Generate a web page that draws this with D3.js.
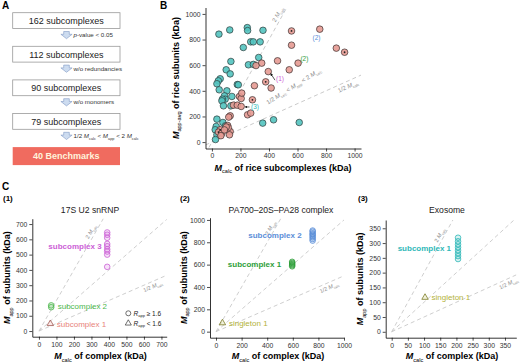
<!DOCTYPE html>
<html>
<head>
<meta charset="utf-8">
<script src="https://cdn.jsdelivr.net/npm/d3@7"></script>
<style>
body { margin: 0; background: #fff; }
svg { font-family: "Liberation Sans", Arial, sans-serif; }
</style>
</head>
<body>
<div id="vis"></div>
<script>
// ---- data ----
var flowCounts = [162, 112, 90, 79];
var flowSteps = ['*p*-value < 0.05', 'w/o redundancies', 'w/o monomers', '1/2 M_calc < M_app < 2 M_calc'];
var benchmarkCount = 40;

// panel B: rice subcomplexes (kDa)
var otherX = [49, 125, 248, 250, 358, 220, 272, 290, 338, 133, 328, 256, 291, 100, 128, 58, 45, 35, 51, 105,
              88, 93, 74, 70, 140, 178, 185, 81, 133, 35, 77, 95, 30, 23, 35, 25, 356, 432, 612];
var otherY = [842, 875, 893, 870, 872, 738, 782, 782, 782, 629, 660, 603, 606, 564, 532, 494, 478, 455, 408, 400,
              361, 335, 335, 322, 356, 449, 447, 283, 283, 179, 153, 127, 122, 96, 57, 20, 148, 174, 153];
var benchX = [558, 756, 558, 872, 930, 604, 542, 460, 349, 395, 377, 415, 298, 193, 205, 209, 284, 151, 178, 205,
              250, 272, 128, 118, 58, 46, 70, 63, 128, 123, 110, 115, 100, 88, 309];
var benchY = [867, 881, 756, 733, 701, 616, 564, 634, 616, 550, 470, 422, 440, 356, 340, 382, 330, 288, 288, 278,
              213, 226, 205, 195, 96, 78, 70, 50, 83, 57, 130, 112, 118, 95, 597];
var benchDotted = [0, 4, 10, 16, 24, 25];
var bTicks = [0, 200, 400, 600, 800, 1000];
var bNotes = ['(1)', '(2)', '(2)', '(3)'];
var bNoteX = [477, 648, 733, 302];
var bNoteY = [491, 650, 814, 274];

// panel C
var c1Title = '17S U2 snRNP';
var c1Names = ['subcomplex 1', 'subcomplex 2', 'subcomplex 3'];
var c1X = [65, 70, 390];
var c1Y = [[48], [168, 156], [645, 630, 610, 570, 555, 535, 520, 500, 420]];
var c1Shape = ['triangle', 'circle', 'circle'];
var c1Ticks = [0, 100, 200, 300, 400, 500, 600, 700];

var c2Title = 'PA700\u201320S\u2013PA28 complex';
var c2Names = ['singleton 1', 'subcomplex 1', 'subcomplex 2'];
var c2X = [50, 595, 755];
var c2Y = [[78], [625, 615, 605, 595, 585], [905, 895, 880, 870, 858, 845, 830, 815]];
var c2Shape = ['triangle', 'circle', 'circle'];
var c2Ticks = [0, 200, 400, 600, 800, 1000];

var c3Title = 'Exosome';
var c3Names = ['singleton 1', 'subcomplex 1'];
var c3X = [103, 205];
var c3Y = [[116], [318, 306, 296, 286, 276, 266, 256, 246]];
var c3Shape = ['triangle', 'circle'];
var c3Ticks = [0, 50, 100, 150, 200, 250, 300, 350];

var legendLabels = ['R_app \u2265 1.6', 'R_app < 1.6'];

// ---- helpers ----
var svg = d3.select('#vis').append('svg')
  .attr('width', 520)
  .attr('height', 364)
  .style('background', '#fff');

var fmt = d3.format('d');

// "M_calc" -> italic M + subscript, "*p*" -> italic
function richText(sel, str, size) {
  var shift = size * 0.3, cur = 0;
  str.split(/([A-Z]_[a-z\-]+|\*[^*]+\*)/).forEach(function(p) {
    if (!p) return;
    var main = p, sub = null, italic = false;
    if (/^[A-Z]_/.test(p)) { main = p[0]; sub = p.slice(2); italic = true; }
    else if (p[0] === '*') { main = p.slice(1, -1); italic = true; }
    var t = sel.append('tspan').text(main);
    if (cur !== 0) { t.attr('dy', -cur); cur = 0; }
    if (italic) t.style('font-style', 'italic');
    if (sub !== null) {
      sel.append('tspan').text(sub)
        .attr('dy', shift)
        .style('font-size', (size * 0.62) + 'px')
        .style('font-style', 'normal')
        .style('font-weight', 'normal');
      cur = shift;
    }
  });
}

function lineLabel(g, xs, ys, k, xv, str, above, size) {
  var ang = Math.atan2(ys(k * 100) - ys(0), xs(100) - xs(0)) * 180 / Math.PI;
  var t = g.append('text')
    .attr('transform', 'translate(' + xs(xv) + ',' + ys(k * xv) + ') rotate(' + ang + ')')
    .attr('text-anchor', 'middle')
    .attr('dy', above ? -2.5 : size + 1)
    .style('font-size', size + 'px')
    .attr('fill', '#8a8a8a');
  richText(t, str, size);
}

function styleAxis(a) {
  a.select('.domain').attr('stroke', '#000').attr('stroke-width', 0.8);
  a.selectAll('.tick line').attr('stroke', '#000').attr('stroke-width', 0.7);
  a.selectAll('.tick text').attr('fill', '#333').style('font-size', '6.8px').attr('font-family', null);
}

function panelLetter(x, y, s, size) {
  svg.append('text').attr('x', x).attr('y', y)
    .style('font-size', size + 'px').style('font-weight', 'bold').text(s);
}

// ---- panel A ----
panelLetter(2, 9, 'A', 10);
var gA = svg.append('g');
var boxLeft = 12.7, boxW = 107.3, boxH = 15.8, stepH = 33.6, boxTop0 = 12.7;

gA.selectAll('rect.flow').data(flowCounts).enter().append('rect')
  .attr('class', 'flow')
  .attr('x', boxLeft)
  .attr('y', function(d, i) { return boxTop0 + i * stepH; })
  .attr('width', boxW).attr('height', boxH)
  .attr('fill', '#fff').attr('stroke', '#9a9a9a').attr('stroke-width', 0.8);

gA.selectAll('text.flow').data(flowCounts).enter().append('text')
  .attr('class', 'flow')
  .attr('x', boxLeft + boxW / 2)
  .attr('y', function(d, i) { return boxTop0 + i * stepH + 11.3; })
  .attr('text-anchor', 'middle')
  .style('font-size', '9px').attr('fill', '#222')
  .text(function(d) { return d + ' subcomplexes'; });

flowSteps.forEach(function(s, i) {
  var cy = boxTop0 + i * stepH + 22.3, cx = 66.5;
  gA.append('path')
    .attr('d', 'M' + (cx - 2.8) + ',' + (cy - 3.5) + 'h5.6v2.8h2.8l-5.6,4.4l-5.6,-4.4h2.8z')
    .attr('fill', '#cddcf0').attr('stroke', '#7f99c4').attr('stroke-width', 0.6);
  var t = gA.append('text').attr('x', 73.5).attr('y', cy + 2.1)
    .style('font-size', '6.2px').attr('fill', '#333');
  richText(t, s, 6.2);
});

var redTop = boxTop0 + 4 * stepH;
gA.append('rect').attr('x', boxLeft).attr('y', redTop)
  .attr('width', boxW).attr('height', 18)
  .attr('fill', '#f06b5f');
gA.append('text').attr('x', boxLeft + boxW / 2).attr('y', redTop + 12.3)
  .attr('text-anchor', 'middle')
  .style('font-size', '9px').style('font-weight', 'bold').attr('fill', '#fff3dc')
  .text(benchmarkCount + ' Benchmarks');

// ---- panel B ----
panelLetter(160, 9, 'B', 10);
var gB = svg.append('g');
var bx = d3.scaleLinear().domain([-45, 1045]).range([205.5, 361]);
var by = d3.scaleLinear().domain([-50, 1050]).range([148.5, 7.5]);

svg.append('clipPath').attr('id', 'clipB').append('rect')
  .attr('x', 205.5).attr('y', 7.5).attr('width', 155.5).attr('height', 141);

var gBp = gB.append('g').attr('clip-path', 'url(#clipB)');
[2, 0.5].forEach(function(k) {
  gBp.append('line')
    .attr('x1', bx(-45)).attr('y1', by(-45 * k))
    .attr('x2', bx(1045)).attr('y2', by(1045 * k))
    .attr('stroke', '#c4c4c4').attr('stroke-width', 0.9).attr('stroke-dasharray', '4,3');
});
lineLabel(gB, bx, by, 2, 490, '2 M_calc', true, 6);
lineLabel(gB, bx, by, 0.5, 940, '1/2 M_calc', false, 6);
var midT = gB.append('text')
  .attr('transform', 'translate(' + bx(581) + ',' + by(423) + ') rotate(-32)')
  .attr('text-anchor', 'middle').style('font-size', '6px').attr('fill', '#8a8a8a');
richText(midT, '1/2 M_calc < M_app < 2 M_calc', 6);

gBp.selectAll('circle.other').data(otherX).enter().append('circle')
  .attr('class', 'other')
  .attr('cx', function(d) { return bx(d); })
  .attr('cy', function(d, i) { return by(otherY[i]); })
  .attr('r', 3.3)
  .attr('fill', '#52c3bf').attr('fill-opacity', 0.9)
  .attr('stroke', '#2e3b3b').attr('stroke-width', 0.7);

gBp.selectAll('circle.bench').data(benchX).enter().append('circle')
  .attr('class', 'bench')
  .attr('cx', function(d) { return bx(d); })
  .attr('cy', function(d, i) { return by(benchY[i]); })
  .attr('r', 3.3)
  .attr('fill', '#e59a92').attr('fill-opacity', 0.9)
  .attr('stroke', '#3b2f2f').attr('stroke-width', 0.7);

gBp.selectAll('circle.dot').data(benchDotted).enter().append('circle')
  .attr('class', 'dot')
  .attr('cx', function(i) { return bx(benchX[i]); })
  .attr('cy', function(i) { return by(benchY[i]); })
  .attr('r', 0.9).attr('fill', '#222');

var noteColors = ['#cc5fd6', '#2e9e3a', '#5b8ed8', '#2fb8b8'];
gB.selectAll('text.note').data(bNotes).enter().append('text')
  .attr('class', 'note')
  .attr('x', function(d, i) { return bx(bNoteX[i]); })
  .attr('y', function(d, i) { return by(bNoteY[i]) + 2.3; })
  .attr('text-anchor', 'middle')
  .style('font-size', '6.5px')
  .attr('fill', function(d, i) { return noteColors[i]; })
  .text(function(d) { return d; });

svg.append('defs').append('marker')
  .attr('id', 'arr').attr('viewBox', '0 0 6 6').attr('refX', 5).attr('refY', 3)
  .attr('markerWidth', 4).attr('markerHeight', 4).attr('orient', 'auto')
  .append('path').attr('d', 'M0,0L6,3L0,6z').attr('fill', '#111');
gB.append('line')
  .attr('x1', bx(bNoteX[0]) - 5).attr('y1', by(bNoteY[0]) + 1)
  .attr('x2', bx(395) + 2.5).attr('y2', by(550) + 2)
  .attr('stroke', '#111').attr('stroke-width', 0.7).attr('marker-end', 'url(#arr)');
gB.append('line')
  .attr('x1', bx(bNoteX[3]) - 5.5).attr('y1', by(bNoteY[3]))
  .attr('x2', bx(205) + 4).attr('y2', by(bNoteY[3]))
  .attr('stroke', '#111').attr('stroke-width', 0.7).attr('marker-end', 'url(#arr)');

var bxAxis = gB.append('g').attr('transform', 'translate(0,148.5)')
  .call(d3.axisBottom(bx).tickValues(bTicks).tickFormat(fmt).tickSize(3).tickSizeOuter(0).tickPadding(2));
styleAxis(bxAxis);
var byAxis = gB.append('g').attr('transform', 'translate(205.5,0)')
  .call(d3.axisLeft(by).tickValues(bTicks).tickFormat(fmt).tickSize(3).tickSizeOuter(0).tickPadding(2));
styleAxis(byAxis);

var bxt = gB.append('text').attr('x', 283).attr('y', 170.5).attr('text-anchor', 'middle')
  .style('font-size', '9px').style('font-weight', 'bold');
richText(bxt, 'M_calc of rice subcomplexes (kDa)', 9);
var byt = gB.append('text').attr('transform', 'translate(178.5,78) rotate(-90)')
  .attr('text-anchor', 'middle').style('font-size', '9px').style('font-weight', 'bold');
richText(byt, 'M_app-avg of rice subunits (kDa)', 9);

// ---- panel C ----
panelLetter(2, 190, 'C', 10);

function smallPanel(cfg) {
  var g = svg.append('g');
  var bottom = cfg.top + cfg.height, right = cfg.left + cfg.width;
  var xs = d3.scaleLinear().domain(cfg.xd).range([cfg.left, right]);
  var ys = d3.scaleLinear().domain(cfg.yd).range([bottom, cfg.top]);

  g.append('text').attr('x', cfg.numX).attr('y', 201)
    .style('font-size', '8px').style('font-weight', 'bold').text(cfg.num);
  g.append('text').attr('x', cfg.titleX).attr('y', 213).attr('text-anchor', 'middle')
    .style('font-size', '8.6px').attr('fill', '#222').text(cfg.title);

  var cid = 'clip' + cfg.num.replace(/\W/g, '');
  svg.append('clipPath').attr('id', cid).append('rect')
    .attr('x', cfg.left).attr('y', cfg.top).attr('width', cfg.width).attr('height', cfg.height);
  var gp = g.append('g').attr('clip-path', 'url(#' + cid + ')');
  [2, 1, 0.5].forEach(function(k) {
    gp.append('line')
      .attr('x1', xs(0)).attr('y1', ys(0))
      .attr('x2', xs(cfg.xd[1] * 1.2)).attr('y2', ys(cfg.xd[1] * 1.2 * k))
      .attr('stroke', '#c8c8c8').attr('stroke-width', 0.9).attr('stroke-dasharray', '4,3');
  });
  lineLabel(g, xs, ys, 2, cfg.lab2, '2 M_calc', true, 5.6);
  lineLabel(g, xs, ys, 0.5, cfg.labHalf, '1/2 M_calc', false, 5.6);

  var tri = d3.symbol().type(d3.symbolTriangle).size(18);
  cfg.names.forEach(function(name, gi) {
    var col = cfg.colors[gi];
    var pts = cfg.ys[gi];
    var gg = gp.append('g');
    if (cfg.shapes[gi] === 'circle') {
      gg.selectAll('circle').data(pts).enter().append('circle')
        .attr('cx', xs(cfg.xs[gi]))
        .attr('cy', function(d) { return ys(d); })
        .attr('r', 2.8)
        .attr('fill', col).attr('fill-opacity', 0.18)
        .attr('stroke', col).attr('stroke-width', 0.8);
    } else {
      gg.selectAll('path').data(pts).enter().append('path')
        .attr('d', tri)
        .attr('transform', function(d) { return 'translate(' + xs(cfg.xs[gi]) + ',' + ys(d) + ')'; })
        .attr('fill', col).attr('fill-opacity', 0.18)
        .attr('stroke', d3.color(col).darker(1)).attr('stroke-width', 0.8);
    }
    var before = cfg.labelLeft[gi];
    g.append('text')
      .attr('x', xs(cfg.xs[gi]) + (before ? -cfg.gap : 6.5))
      .attr('y', ys(d3.mean(pts)) + 2.8)
      .attr('text-anchor', before ? 'end' : 'start')
      .style('font-size', '8px')
      .style('font-weight', pts.length > 2 ? 'bold' : 'normal')
      .attr('fill', col)
      .text(name);
  });

  var xa = g.append('g').attr('transform', 'translate(0,' + bottom + ')')
    .call(d3.axisBottom(xs).tickValues(cfg.ticks).tickFormat(fmt).tickSize(3).tickSizeOuter(0).tickPadding(2));
  styleAxis(xa);
  var ya = g.append('g').attr('transform', 'translate(' + cfg.left + ',0)')
    .call(d3.axisLeft(ys).tickValues(cfg.ticks).tickFormat(fmt).tickSize(3).tickSizeOuter(0).tickPadding(2));
  styleAxis(ya);

  var xt = g.append('text').attr('x', cfg.left + cfg.width / 2 + 1).attr('y', 359)
    .attr('text-anchor', 'middle').style('font-size', '9px').style('font-weight', 'bold');
  richText(xt, 'M_calc of complex (kDa)', 9);
  var yt = g.append('text')
    .attr('transform', 'translate(' + cfg.ytX + ',' + (cfg.top + cfg.height / 2) + ') rotate(-90)')
    .attr('text-anchor', 'middle').style('font-size', '9px').style('font-weight', 'bold');
  richText(yt, 'M_app of subunits (kDa)', 9);
  return { g: g, xs: xs, ys: ys };
}

var p1 = smallPanel({
  num: '(1)', numX: 3, title: c1Title, titleX: 90,
  left: 32.3, top: 218.7, width: 134.4, height: 118,
  xd: [-38, 730], yd: [-37, 735], ticks: c1Ticks,
  names: c1Names, xs: c1X, ys: c1Y, shapes: c1Shape,
  colors: ['#e8837a', '#4cb84c', '#cc5fd6'], labelLeft: [false, false, true], gap: 5.5,
  lab2: 318, labHalf: 640, ytX: 10
});
smallPanel({
  num: '(2)', numX: 180, title: c2Title, titleX: 281,
  left: 210, top: 217.7, width: 134, height: 120,
  xd: [-47, 1000], yd: [-54, 1020], ticks: c2Ticks,
  names: c2Names, xs: c2X, ys: c2Y, shapes: c2Shape,
  colors: ['#b3b23a', '#2e9e3a', '#5b8ed8'], labelLeft: [false, true, true], gap: 11,
  lab2: 455, labHalf: 870, ytX: 186.5
});
smallPanel({
  num: '(3)', numX: 358, title: c3Title, titleX: 447,
  left: 385.7, top: 220, width: 130.6, height: 117.7,
  xd: [-18.5, 385], yd: [-20, 378], ticks: c3Ticks,
  names: c3Names, xs: c3X, ys: c3Y, shapes: c3Shape,
  colors: ['#b3b23a', '#2fb8b8'], labelLeft: [false, true], gap: 7,
  lab2: 160, labHalf: 355, ytX: 363
});

// legend in panel (1)
var lg = p1.g.append('g');
var legY = [313.3, 323.3];
lg.append('circle').attr('cx', 128.3).attr('cy', legY[0]).attr('r', 2.5)
  .attr('fill', 'none').attr('stroke', '#333').attr('stroke-width', 0.7);
lg.append('path').attr('d', d3.symbol().type(d3.symbolTriangle).size(16))
  .attr('transform', 'translate(128.3,' + legY[1] + ')')
  .attr('fill', 'none').attr('stroke', '#333').attr('stroke-width', 0.7);
legendLabels.forEach(function(s, i) {
  var t = lg.append('text').attr('x', 133.5).attr('y', legY[i] + 2.2)
    .style('font-size', '6.5px').attr('fill', '#222');
  richText(t, s, 6.5);
});
</script>
</body>
</html>
